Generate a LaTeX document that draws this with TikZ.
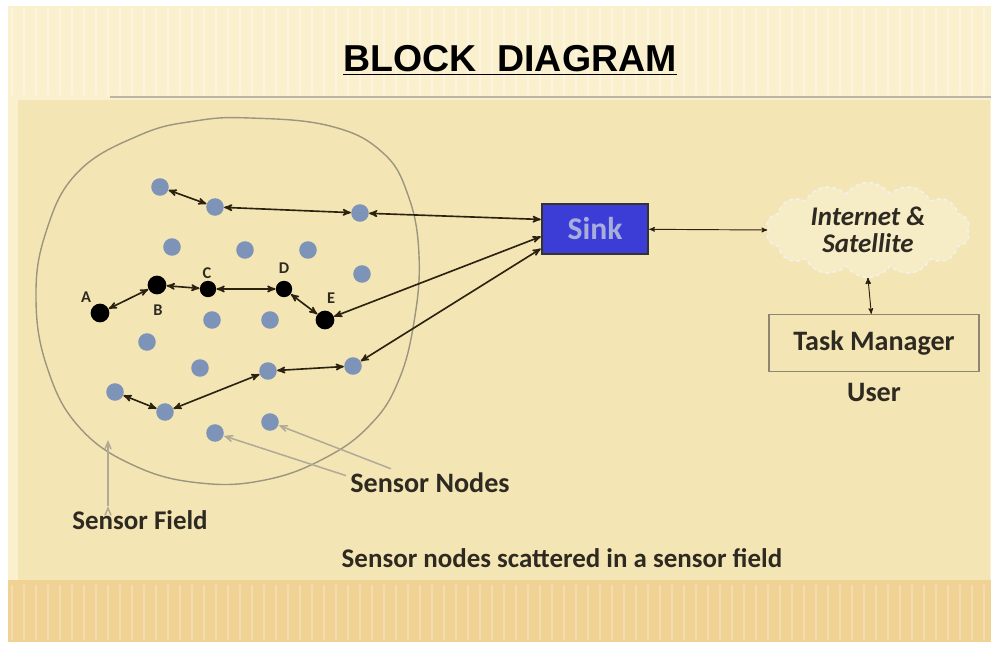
\documentclass[tikz,border=0pt]{standalone}
\usepackage{fontspec}
\setmainfont{Carlito}
\newfontfamily\titlefont{Liberation Sans}
\usepackage{tikz}
\usetikzlibrary{automata, positioning, shapes.symbols}
\usetikzlibrary{arrows}

\definecolor{paper}{HTML}{F4E6B4}
\definecolor{topband}{HTML}{FAF0CE}
\definecolor{lowband}{HTML}{EFD294}
\definecolor{nodeblue}{HTML}{7D93B7}
\definecolor{sinkblue}{HTML}{3B3DD6}
\definecolor{sinktext}{HTML}{A8AEDC}
\definecolor{fieldline}{HTML}{9C9580}
\definecolor{linkcol}{HTML}{2B2210}
\definecolor{txtcol}{HTML}{2E2A22}

\begin{document}
\begin{tikzpicture}[x=0.03cm,y=-0.03cm,>=stealth',semithick]
\tikzstyle{every state}=[fill=nodeblue,draw=none,text=black,inner sep=0pt,minimum size=15pt]
\tikzset{font=\fontsize{21pt}{25pt}\selectfont\bfseries}

        % slide background
        \useasboundingbox (0,0) rectangle (999,648);
        \fill[white] (0,0) rectangle (999,648);
        \fill[topband] (8,6) rectangle (991,642);
        \fill[paper] (18,100) rectangle (990,580);
        \fill[lowband] (8,580) rectangle (991,642);
        \foreach \x in {12,24,...,990} {
          \draw[white,opacity=0.25,line width=2pt] (\x,585) -- (\x,640);
          \draw[white,opacity=0.35,line width=1pt] (\x,8) -- (\x,95);
        }
        \draw[fieldline!70,line width=1pt] (110,97) -- (991,97);

        \node[text=black,font=\titlefont\fontsize{32pt}{36pt}\selectfont\bfseries] (title) at (510,60) {\underline{BLOCK\ \ DIAGRAM}};

        % sensor field
        \draw[fieldline,line width=1.2pt] plot[smooth cycle,tension=0.7] coordinates {
          (250,118) (330,126) (382,152) (408,195) (419,255) (414,322) (398,382)
          (370,425) (325,458) (265,480) (200,483) (135,466) (80,428) (48,370)
          (36,300) (46,232) (78,172) (140,135) (195,121)};

        % blue sensor nodes
        \node[state] (1)  at (160,187) {};
        \node[state] (2)  at (215,207) {};
        \node[state] (3)  at (360,213) {};
        \node[state] (4)  at (172,247) {};
        \node[state] (5)  at (245,250) {};
        \node[state] (6)  at (308,250) {};
        \node[state] (7)  at (362,274) {};
        \node[state] (8)  at (212,320) {};
        \node[state] (9)  at (270,320) {};
        \node[state] (10) at (147,342) {};
        \node[state] (11) at (200,368) {};
        \node[state] (12) at (268,371) {};
        \node[state] (13) at (353,366) {};
        \node[state] (14) at (115,392) {};
        \node[state] (15) at (165,412) {};
        \node[state] (16) at (215,433) {};
        \node[state] (17) at (270,422) {};

        % path A..E
        \node[state,fill=black,minimum size=16pt] (A) at (100,313) {};
        \node[state,fill=black,minimum size=16pt] (B) at (157,285) {};
        \node[state,fill=black,minimum size=14pt] (C) at (208,289) {};
        \node[state,fill=black,minimum size=14pt] (D) at (284,289) {};
        \node[state,fill=black,minimum size=16pt] (E) at (325,320) {};
        \node[text=txtcol,font=\fontsize{14pt}{16pt}\selectfont\bfseries] (pA) at (86,297) {A};
        \node[text=txtcol,font=\fontsize{14pt}{16pt}\selectfont\bfseries] (pB) at (158,310) {B};
        \node[text=txtcol,font=\fontsize{14pt}{16pt}\selectfont\bfseries] (pC) at (207,273) {C};
        \node[text=txtcol,font=\fontsize{14pt}{16pt}\selectfont\bfseries] (pD) at (284,268) {D};
        \node[text=txtcol,font=\fontsize{14pt}{16pt}\selectfont\bfseries] (pE) at (331,298) {E};

        % sink, internet, user
        \node[rectangle,draw=black!80,line width=1.5pt,fill=sinkblue,minimum width=3.2cm,minimum height=1.5cm,text=sinktext,font=\fontsize{27pt}{30pt}\selectfont\bfseries] (sink) at (595,229) {Sink};
        \node[cloud,cloud puffs=14,cloud puff arc=110,aspect=2.4,draw=white!90!gray,dashed,line width=1.3pt,fill=white,fill opacity=0.25,text opacity=1,minimum width=6.1cm,minimum height=2.7cm,align=center,text=txtcol,font=\fontsize{23pt}{23pt}\selectfont\bfseries\itshape] (net) at (868,230) {Internet \&\\Satellite};
        \node[rectangle,draw=fieldline!90!black,line width=1.3pt,minimum width=6.3cm,minimum height=1.7cm,text=txtcol,font=\fontsize{24pt}{28pt}\selectfont\bfseries] (task) at (874,343) {Task Manager};
        \node[text=txtcol,font=\fontsize{24pt}{28pt}\selectfont\bfseries] (user) [below=0.2cm of task] {User};

        % captions
        \node[text=txtcol,font=\fontsize{24pt}{28pt}\selectfont\bfseries] (nodes) at (430,483) {Sensor Nodes};
        \node[text=txtcol,font=\fontsize{23pt}{27pt}\selectfont\bfseries] (field) at (140,520) {Sensor Field};
        \node[text=txtcol,font=\fontsize{23pt}{27pt}\selectfont\bfseries] (caption) at (562,558) {Sensor nodes scattered in a sensor field};
        \coordinate (fieldtip) at (108,440);

        \path[<->,draw=linkcol,line width=1.4pt]
        (1)  edge node {} (2)
        (2)  edge node {} (3)
        (3)  edge node {} (sink.170)
        (A)  edge node {} (B)
        (B)  edge node {} (C)
        (C)  edge node {} (D)
        (D)  edge node {} (E)
        (E)  edge node {} (sink.188)
        (13) edge node {} (sink.200)
        (12) edge node {} (13)
        (15) edge node {} (12)
        (14) edge node {} (15)
        ; %end path

        \path[<->,draw=linkcol,line width=0.8pt]
        (sink) edge node {} (net.west)
        (net.south) edge node {} (task)
        ;

        \path[->,>=angle 45,draw=fieldline!80,line width=1.3pt]
        (nodes.175) edge node {} (16)
        (nodes.160) edge node {} (17)
        (field.north -| fieldtip) edge node {} (fieldtip)
        ;

\end{tikzpicture}
\end{document}
